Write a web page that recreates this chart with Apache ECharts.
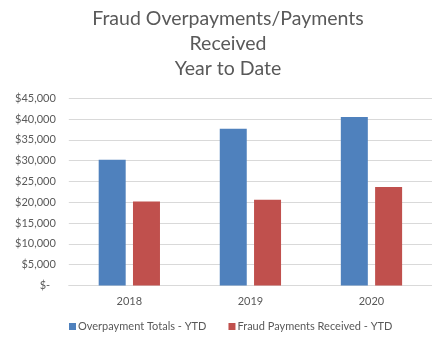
<!DOCTYPE html>
<html>
<head>
<meta charset="utf-8">
<script src="https://cdn.jsdelivr.net/npm/echarts@6/dist/echarts.min.js"></script>
<style>
  html, body { margin: 0; padding: 0; background: #fff; }
  #chart { width: 432px; height: 339px; }
</style>
</head>
<body>
<div id="chart"></div>
<script>
// Fiscal years shown on the category axis
const years = ['2018', '2019', '2020'];

// Year-to-date dollar amounts per series
const overpaymentTotals = [30200, 37700, 40500];
const fraudPaymentsReceived = [20200, 20600, 23700];

const seriesNames = ['Overpayment Totals - YTD', 'Fraud Payments Received - YTD'];

// Value axis scale
const axisMin = 0;
const axisMax = 45000;
const axisStep = 5000;

const FONT = 'Lato, "Open Sans", sans-serif';
const TEXT_GREY = '#595959';
const GRID_GREY = '#d9d9d9';

// Accounting-style currency label: "$45,000", zero shown as "$-"
function currencyLabel(v) {
  if (v === 0) return '$-  ';
  return '$' + v.toLocaleString('en-US');
}

const chart = echarts.init(document.getElementById('chart'), null, { renderer: 'canvas' });

chart.setOption({
  backgroundColor: '#ffffff',
  animation: false,
  title: {
    text: 'Fraud Overpayments/Payments\nReceived\nYear to Date',
    left: 223,
    top: 1,
    textAlign: 'center',
    textStyle: {
      fontFamily: FONT,
      fontSize: 19.5,
      fontWeight: 'normal',
      color: TEXT_GREY,
      lineHeight: 25
    }
  },
  legend: {
    data: seriesNames,
    left: 69,
    top: 321,
    padding: 0,
    icon: 'rect',
    itemWidth: 7,
    itemHeight: 7,
    itemGap: 22,
    textStyle: {
      fontFamily: FONT,
      fontSize: 11,
      color: TEXT_GREY,
      padding: [0, 0, 0, -3]
    }
  },
  grid: {
    left: 68.8,
    right: -5.8,
    top: 98.3,
    bottom: 53.5,
    containLabel: false
  },
  xAxis: {
    type: 'category',
    data: years,
    axisLine: { show: true, lineStyle: { color: GRID_GREY, width: 1 } },
    axisTick: { show: false },
    axisLabel: {
      fontFamily: FONT,
      fontSize: 11,
      color: TEXT_GREY,
      margin: 10
    }
  },
  yAxis: {
    type: 'value',
    min: axisMin,
    max: axisMax,
    interval: axisStep,
    axisLine: { show: false },
    axisTick: { show: false },
    splitLine: { show: true, lineStyle: { color: GRID_GREY, width: 1 } },
    axisLabel: {
      fontFamily: FONT,
      fontSize: 11,
      color: TEXT_GREY,
      margin: 13,
      formatter: currencyLabel
    }
  },
  series: [
    {
      name: seriesNames[0],
      type: 'bar',
      data: overpaymentTotals,
      barWidth: 27,
      barGap: '27%',
      itemStyle: { color: '#4F81BD' }
    },
    {
      name: seriesNames[1],
      type: 'bar',
      data: fraudPaymentsReceived,
      barWidth: 27,
      barGap: '27%',
      itemStyle: { color: '#C0504D' }
    }
  ]
});
</script>
</body>
</html>
